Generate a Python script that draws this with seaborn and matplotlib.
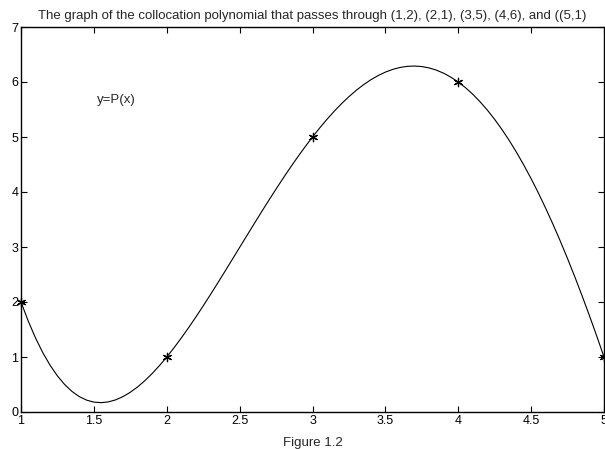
import numpy as np
import pandas as pd
import matplotlib
matplotlib.use("Agg")
import matplotlib.pyplot as plt
import seaborn as sns

# collocation points
pts_x = [1, 2, 3, 4, 5]
pts_y = [2, 1, 5, 6, 1]

# curve y=P(x), sampled every 0.05 from x=1 to x=5
curve_x = [1.00, 1.05, 1.10, 1.15, 1.20, 1.25, 1.30, 1.35, 1.40, 1.45,
           1.50, 1.55, 1.60, 1.65, 1.70, 1.75, 1.80, 1.85, 1.90, 1.95,
           2.00, 2.05, 2.10, 2.15, 2.20, 2.25, 2.30, 2.35, 2.40, 2.45,
           2.50, 2.55, 2.60, 2.65, 2.70, 2.75, 2.80, 2.85, 2.90, 2.95,
           3.00, 3.05, 3.10, 3.15, 3.20, 3.25, 3.30, 3.35, 3.40, 3.45,
           3.50, 3.55, 3.60, 3.65, 3.70, 3.75, 3.80, 3.85, 3.90, 3.95,
           4.00, 4.05, 4.10, 4.15, 4.20, 4.25, 4.30, 4.35, 4.40, 4.45,
           4.50, 4.55, 4.60, 4.65, 4.70, 4.75, 4.80, 4.85, 4.90, 4.95, 5.00]
curve_y = [2.0, 1.6508, 1.3437, 1.0767, 0.848, 0.6558, 0.4982, 0.3735, 0.280, 0.2159,
           0.1797, 0.1696, 0.184, 0.2214, 0.2802, 0.3589, 0.456, 0.5701, 0.6997, 0.8435,
           1.0, 1.1680, 1.3462, 1.5333, 1.728, 1.9292, 2.1357, 2.3463, 2.560, 2.7756,
           2.9922, 3.2086, 3.424, 3.6373, 3.8477, 4.0542, 4.256, 4.4523, 4.6422, 4.8250,
           5.0, 5.1664, 5.3237, 5.4711, 5.608, 5.7339, 5.8482, 5.9504, 6.040, 6.1166,
           6.1797, 6.2289, 6.264, 6.2845, 6.2902, 6.2808, 6.256, 6.2157, 6.1597, 6.0868,
           6.0, 5.8961, 5.7762, 5.6401, 5.488, 5.3198, 5.1357, 4.9357, 4.720, 4.4888,
           4.2422, 3.9810, 3.704, 3.4129, 3.1077, 2.7886, 2.456, 2.1104, 1.7522, 1.3824, 1.0]

xticks = [1, 1.5, 2, 2.5, 3, 3.5, 4, 4.5, 5]
xtick_labels = ["1", "1.5", "2", "2.5", "3", "3.5", "4", "4.5", "5"]
yticks = [0, 1, 2, 3, 4, 5, 6, 7]

sns.set_style("ticks")
plt.rcParams["font.family"] = ["Liberation Sans", "DejaVu Sans"]

curve = pd.DataFrame({"x": curve_x, "y": curve_y})
points = pd.DataFrame({"x": pts_x, "y": pts_y})

fig = plt.figure(figsize=(6.05, 4.49), dpi=100)
ax = fig.add_axes([21 / 605, 1 - 412 / 449, 583 / 605, 385 / 449])

sns.lineplot(data=curve, x="x", y="y", ax=ax, color="black", linewidth=0.8)
sns.scatterplot(data=points, x="x", y="y", ax=ax, marker=(6, 2, 0), s=36,
                color="black", linewidth=0.9, clip_on=False, zorder=3)

ax.set_xlim(1, 5)
ax.set_ylim(0, 7)
ax.set_xticks(xticks)
ax.set_xticklabels(xtick_labels)
ax.set_yticks(yticks)
ax.tick_params(direction="in", top=True, right=True, length=4, width=0.8,
               labelsize=9, pad=2, colors="black")
for s in ax.spines.values():
    s.set_linewidth(1.0)
    s.set_color("black")
ax.set_xlabel("")
ax.set_ylabel("")

ax.set_title("The graph of the collocation polynomial that passes through "
             "(1,2), (2,1), (3,5), (4,6), and ((5,1)", fontsize=9.5, pad=6)
ax.text(1.52, 5.67, "y=P(x)", fontsize=9.5, ha="left", va="center")
fig.text(313 / 605, 1 - 443 / 449, "Figure 1.2", fontsize=9.5, ha="center", va="center")

fig.savefig("out.png", dpi=100)
